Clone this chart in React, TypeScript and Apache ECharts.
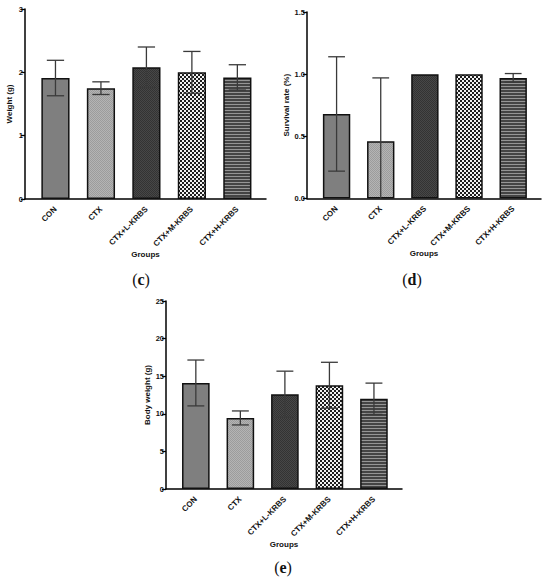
import React, { useEffect, useRef } from "react";
import * as echarts from "echarts";

// ---------- data ----------
const categories = ["CON", "CTX", "CTX+L-KRBS", "CTX+M-KRBS", "CTX+H-KRBS"];

const weightMean = [1.91, 1.75, 2.08, 2.0, 1.92];
const weightSd = [0.28, 0.1, 0.32, 0.33, 0.2];

const survivalMean = [0.68, 0.46, 1.0, 1.0, 0.97];
const survivalSd = [0.46, 0.51, 0, 0, 0.035];

const bodyMean = [14.1, 9.45, 12.6, 13.8, 12.0];
const bodySd = [3.05, 0.93, 3.07, 3.05, 2.08];

const weightTicks = { max: 3, interval: 1, decimals: 0 };
const survivalTicks = { max: 1.5, interval: 0.5, decimals: 1 };
const bodyTicks = { max: 25, interval: 5, decimals: 0 };

const panelNames = ["Weight (g)", "Survival rate (%)", "Body weight (g)"];
const panelLetters = ["c", "d", "e"];
const xName = "Groups";

// ---------- helpers ----------
function makePattern(w: number, h: number, draw: (ctx: CanvasRenderingContext2D) => void) {
  const c = document.createElement("canvas");
  c.width = w;
  c.height = h;
  const ctx = c.getContext("2d")!;
  draw(ctx);
  return { image: c, repeat: "repeat", imageWidth: w, imageHeight: h } as any;
}

function makeFills() {
  const con = "#7f7f7f";
  const ctx = makePattern(2, 2, (g) => {
    g.fillStyle = "#b4b4b4";
    g.fillRect(0, 0, 2, 2);
    g.fillStyle = "#9c9c9c";
    g.fillRect(0, 0, 1, 1);
    g.fillRect(1, 1, 1, 1);
  });
  const low = makePattern(2, 2, (g) => {
    g.fillStyle = "#474747";
    g.fillRect(0, 0, 2, 2);
    g.fillStyle = "#333333";
    g.fillRect(0, 0, 1, 1);
    g.fillRect(1, 1, 1, 1);
  });
  const mid = makePattern(4, 4, (g) => {
    g.fillStyle = "#f2f2f2";
    g.fillRect(0, 0, 4, 4);
    g.fillStyle = "#1e1e1e";
    g.fillRect(0, 0, 2, 2);
    g.fillRect(2, 2, 2, 2);
  });
  const high = makePattern(3, 3, (g) => {
    g.fillStyle = "#444444";
    g.fillRect(0, 0, 3, 3);
    g.fillStyle = "#959595";
    g.fillRect(0, 2, 3, 1);
  });
  return [con, ctx, low, mid, high];
}

// frame of each panel (axis lines) in pixels
const panels = [
  { mean: weightMean, sd: weightSd, ticks: weightTicks, frame: { left: 25, top: 9, width: 241, height: 190 }, nameGap: 12, letterPos: [141, 279] },
  { mean: survivalMean, sd: survivalSd, ticks: survivalTicks, frame: { left: 307, top: 12, width: 234, height: 186.5 }, nameGap: 17, letterPos: [412, 279] },
  { mean: bodyMean, sd: bodySd, ticks: bodyTicks, frame: { left: 166, top: 301, width: 236, height: 188 }, nameGap: 15, letterPos: [283, 567] },
];

const FONT = '"Liberation Sans", Arial, sans-serif';
const LEAD = 0.67; // distance from y axis to first band centre, in band units
const TRAIL = 0.63; // distance from last band centre to axis end, in band units

export default function App() {
  const ref = useRef<HTMLDivElement>(null);

  useEffect(() => {
    if (!ref.current) return;
    const chart = echarts.init(ref.current, null, { renderer: "svg" });
    const fills = makeFills();

    const grids: any[] = [];
    const xAxes: any[] = [];
    const yAxes: any[] = [];
    const series: any[] = [];
    const graphic: any[] = [];
    const boldText = { fontFamily: FONT, fontWeight: "bold", color: "#111" };

    panels.forEach((p, k) => {
      const f = p.frame;
      const unit = f.width / (categories.length - 1 + LEAD + TRAIL);
      const frameIdx = 2 * k;
      const dataIdx = 2 * k + 1;
      grids.push({ left: f.left, top: f.top, width: f.width, height: f.height });
      grids.push({
        left: f.left + (LEAD - 0.5) * unit,
        top: f.top,
        width: categories.length * unit,
        height: f.height,
      });

      xAxes.push({
        type: "value",
        gridIndex: frameIdx,
        min: 0,
        max: 1,
        name: xName,
        nameLocation: "middle",
        nameGap: 51,
        nameTextStyle: { ...boldText, fontSize: 8 },
        axisLine: { show: true, onZero: false, lineStyle: { color: "#000", width: 1.5 } },
        axisTick: { show: false },
        axisLabel: { show: false },
        splitLine: { show: false },
      });
      xAxes.push({
        type: "category",
        gridIndex: dataIdx,
        data: categories,
        axisLine: { show: false },
        axisTick: { show: false },
        splitLine: { show: false },
        axisLabel: {
          interval: 0,
          rotate: 45,
          margin: 9,
          ...boldText,
          fontSize: 8,
        },
      });
      yAxes.push({
        type: "value",
        gridIndex: frameIdx,
        min: 0,
        max: p.ticks.max,
        interval: p.ticks.interval,
        name: panelNames[k],
        nameLocation: "middle",
        nameGap: p.nameGap,
        nameTextStyle: { ...boldText, fontSize: 8 },
        axisLine: { show: true, onZero: false, lineStyle: { color: "#000", width: 1.5 } },
        axisTick: { show: true, length: 4, lineStyle: { color: "#000", width: 1.3 } },
        splitLine: { show: false },
        axisLabel: {
          margin: 2,
          formatter: (v: number) => v.toFixed(p.ticks.decimals),
          ...boldText,
          fontSize: 7.5,
        },
      });
      yAxes.push({
        type: "value",
        gridIndex: dataIdx,
        min: 0,
        max: p.ticks.max,
        interval: p.ticks.interval,
        show: false,
        splitLine: { show: false },
      });
      series.push({
        type: "bar",
        xAxisIndex: dataIdx,
        yAxisIndex: dataIdx,
        barWidth: "62%",
        itemStyle: { borderColor: "#111", borderWidth: 1.5 },
        data: categories.map((_, i) => ({ value: p.mean[i], itemStyle: { color: fills[i] } })),
        z: 2,
      });
      const errData = categories
        .map((_, i) => {
          const m = p.mean[i];
          const s = p.sd[i];
          if (!s) return null;
          return [i, Math.max(0, m - s), m + s, m - s >= 0 ? 1 : 0];
        })
        .filter(Boolean);
      series.push({
        type: "custom",
        xAxisIndex: dataIdx,
        yAxisIndex: dataIdx,
        z: 5,
        data: errData,
        renderItem: (_params: any, api: any) => {
          const x = api.value(0);
          const lo = api.value(1);
          const hi = api.value(2);
          const capLo = api.value(3);
          const top = api.coord([x, hi]);
          const bot = api.coord([x, lo]);
          const half = api.size([1, 0])[0] * 0.19;
          const style = { stroke: "#3a3a3a", lineWidth: 1.3, fill: "none" };
          const children: any[] = [
            { type: "line", shape: { x1: top[0], y1: top[1], x2: bot[0], y2: bot[1] }, style },
            { type: "line", shape: { x1: top[0] - half, y1: top[1], x2: top[0] + half, y2: top[1] }, style },
          ];
          if (capLo) {
            children.push({ type: "line", shape: { x1: bot[0] - half, y1: bot[1], x2: bot[0] + half, y2: bot[1] }, style });
          }
          return { type: "group", children };
        },
      });
      graphic.push({
        type: "text",
        x: p.letterPos[0],
        y: p.letterPos[1],
        style: {
          text: "{p|(}{b|" + panelLetters[k] + "}{p|)}",
          align: "center",
          verticalAlign: "middle",
          rich: {
            p: { fontFamily: '"Liberation Serif", serif', fontSize: 16, fill: "#111" },
            b: { fontFamily: '"Liberation Serif", serif', fontSize: 16, fontWeight: "bold", fill: "#111" },
          },
        },
      });
    });

    chart.setOption({
      animation: false,
      backgroundColor: "#fff",
      grid: grids,
      xAxis: xAxes,
      yAxis: yAxes,
      series,
      graphic,
    });

    return () => chart.dispose();
  }, []);

  return (
    <div
      ref={ref}
      style={{ position: "absolute", left: 0, top: 0, width: 550, height: 579, background: "#fff" }}
    />
  );
}
